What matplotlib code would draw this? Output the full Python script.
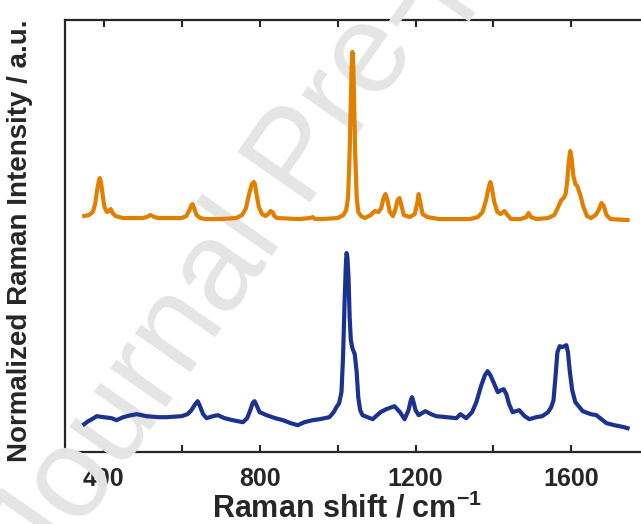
import matplotlib.pyplot as plt
import numpy as np

# (cm-1, a.u.)
shift_top = [350, 362, 372, 378, 384, 388, 390, 393, 397, 402, 408, 413, 418, 423, 430, 450,
             500, 510, 520, 530, 540, 600, 612, 620, 625, 628, 632, 638, 648, 660, 700, 740,
             755, 765, 773, 780, 785, 788, 792, 798, 806, 815, 822, 828, 833, 838, 845, 900,
             930, 936, 942, 960, 1000, 1015, 1022, 1027, 1031, 1034, 1036, 1038, 1040, 1042,
             1045, 1049, 1053, 1060, 1070, 1085, 1095, 1105, 1112, 1118, 1123, 1128, 1134,
             1142, 1148, 1154, 1159, 1164, 1170, 1185, 1198, 1204, 1208, 1212, 1218, 1230,
             1260, 1300, 1340, 1360, 1372, 1381, 1388, 1392, 1396, 1402, 1410, 1418, 1428,
             1436, 1445, 1470, 1484, 1490, 1496, 1510, 1540, 1556, 1566, 1574, 1580, 1585,
             1589, 1593, 1597, 1601, 1605, 1610, 1615, 1622, 1630, 1640, 1650, 1662, 1670,
             1677, 1683, 1690, 1700, 1744]
int_top = [236, 237, 240, 248, 264, 272, 274, 270, 258, 245, 240, 241, 243, 239, 236, 234,
           234, 235, 237, 235, 234, 234, 236, 242, 247, 248, 244, 237, 234, 233, 233, 234,
           237, 244, 258, 268, 270, 268, 258, 245, 238, 236, 238, 241, 240, 236, 234, 233,
           234, 235, 233, 233, 234, 237, 242, 255, 300, 350, 385, 400, 390, 360, 300, 255,
           240, 236, 234, 237, 241, 240, 244, 254, 258, 252, 240, 236, 242, 252, 254, 246,
           237, 235, 238, 248, 258, 250, 238, 235, 233, 233, 233, 235, 240, 252, 265, 270,
           264, 250, 240, 238, 241, 237, 233, 233, 235, 239, 235, 233, 234, 237, 245, 252,
           254, 258, 270, 290, 301, 292, 276, 268, 266, 258, 246, 236, 234, 237, 242, 249,
           246, 237, 233, 232]

shift_bot = [350, 360, 370, 382, 400, 420, 433, 450, 470, 485, 510, 540, 560, 600, 615, 625,
             633, 641, 647, 655, 664, 680, 693, 710, 731, 757, 768, 776, 782, 787, 792, 800,
             818, 840, 860, 880, 898, 915, 936, 954, 979, 990, 997, 1004, 1010, 1014, 1018,
             1021, 1023, 1025, 1028, 1031, 1034, 1038, 1044, 1049, 1053, 1058, 1064, 1090,
             1110, 1125, 1146, 1160, 1172, 1182, 1188, 1191, 1195, 1200, 1208, 1225, 1240,
             1253, 1280, 1305, 1315, 1330, 1345, 1356, 1368, 1378, 1385, 1392, 1400, 1411,
             1420, 1426, 1433, 1440, 1449, 1466, 1480, 1492, 1510, 1525, 1540, 1548, 1554,
             1559, 1564, 1570, 1576, 1582, 1587, 1591, 1596, 1602, 1610, 1629, 1650, 1664,
             1677, 1690, 1710, 1723, 1735, 1744]
int_bot = [28, 31, 33, 36, 35, 34, 32, 35, 37, 38, 36, 35, 35, 36, 38, 42,
           47, 51, 46, 38, 34, 36, 37, 34, 32, 30, 34, 42, 49, 51, 47, 40,
           37, 34, 32, 29, 27, 30, 32, 33, 35, 40, 45, 49, 60, 95, 150,
           185, 199, 196, 175, 135, 112, 104, 98, 80, 55, 42, 37, 33,
           40, 43, 46, 40, 33, 42, 52, 55, 50, 42, 37, 41, 38,
           36, 35, 34, 38, 34, 40, 50, 66, 77, 81, 77, 70, 60,
           62, 63, 58, 48, 40, 42, 36, 33, 35, 36, 40, 45, 52,
           75, 100, 106, 105, 106, 107, 100, 80, 62, 50, 41, 38, 37,
           33, 29, 27, 26, 25, 24]

txt = '#262626'
plt.rcParams['font.family'] = ['Liberation Sans', 'DejaVu Sans']
plt.rcParams['font.weight'] = 'bold'
plt.rcParams['mathtext.fontset'] = 'custom'
plt.rcParams['mathtext.bf'] = 'Liberation Sans:bold'
plt.rcParams['mathtext.rm'] = 'Liberation Sans'

fig = plt.figure(figsize=(6.41, 5.24), dpi=100)
ax = fig.add_axes([0.101, 0.137, 0.92, 0.825])

ax.plot(shift_top, int_top, color='#E17F00', lw=3, zorder=4, solid_joinstyle='round')
ax.plot(shift_bot, int_bot, color='#1B3291', lw=3, zorder=4, solid_joinstyle='round')

ax.set_xlim(300, 1813)
ax.set_ylim(0, 432)
ax.set_xticks([400, 800, 1200, 1600])
ax.set_xticks([600, 1000, 1400], minor=True)
ax.set_yticks([])
ax.tick_params(axis='x', which='both', direction='in', top=True, length=5, width=1.5,
               colors=txt, labelsize=18, pad=11)
for s in ax.spines.values():
    s.set_linewidth(1.6)
    s.set_color(txt)

ax.set_xlabel('Raman shift / cm$^{\\mathbf{-1}}$', fontsize=22, fontweight='bold', color=txt)
ax.xaxis.set_label_coords(0.478, -0.094)
ax.set_ylabel('Normalized Raman Intensity / a.u.', fontsize=20, fontweight='bold', color=txt)
ax.yaxis.set_label_coords(-0.054, 0.49)

# watermark
ax.text(0.468, 0.695, 'Journal Pre-proof', transform=fig.transFigure, fontsize=92,
        fontweight='normal', color='#E5E5E5', rotation=55, rotation_mode='anchor',
        ha='center', va='center', zorder=3, clip_on=False)

fig.savefig('out.png', dpi=100)
